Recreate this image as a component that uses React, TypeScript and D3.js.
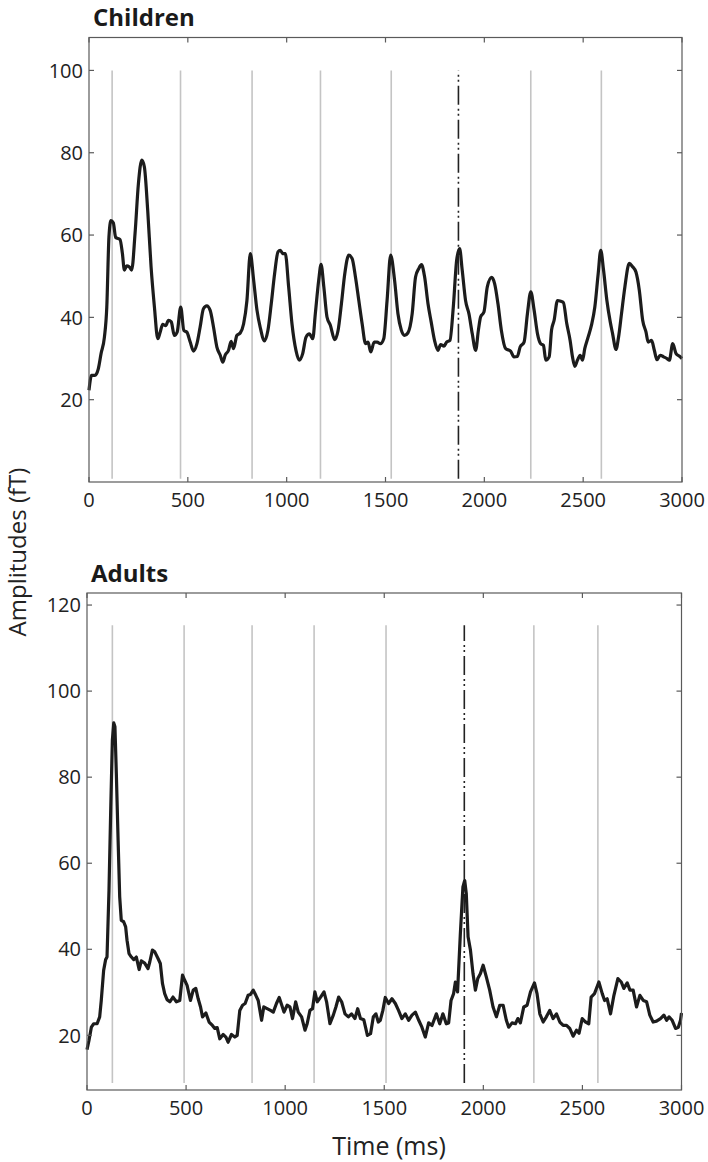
import React from "react";
import * as d3 from "d3";

// ---------- Data ----------
const childTime = [0,13,30,47,61,78,90,101,111,123,135,157,169,179,191,203,216,233,250,267,280,297,314,331,348,360,373,388,402,416,432,446,464,480,495,512,529,546,562,579,596,613,630,647,664,677,689,706,719,731,748,765,782,799,816,833,850,866,888,905,922,939,956,968,980,993,1010,1027,1047,1064,1081,1098,1115,1132,1145,1162,1174,1188,1204,1221,1243,1260,1277,1294,1314,1331,1348,1365,1382,1399,1412,1425,1443,1458,1474,1491,1508,1526,1546,1563,1580,1596,1613,1635,1652,1669,1682,1698,1715,1731,1748,1765,1779,1796,1809,1826,1843,1860,1875,1888,1905,1922,1939,1956,1970,1981,1998,2015,2037,2052,2069,2086,2108,2133,2150,2167,2181,2201,2218,2235,2252,2269,2285,2299,2311,2328,2340,2353,2370,2387,2400,2417,2434,2446,2458,2471,2485,2497,2508,2525,2542,2559,2576,2589,2603,2620,2637,2649,2666,2679,2694,2711,2733,2750,2767,2784,2801,2818,2829,2846,2860,2873,2890,2907,2924,2936,2953,2970,2986,3000];
const childAmp = [22.3,25.9,25.9,27.5,31.2,35.2,42.5,59.6,63.5,63,59.4,58.9,55.5,51.5,52.5,52.3,51.5,60.4,72.5,78.2,76.6,66,52.3,42.5,34.8,36.4,38.3,38,39.3,38.9,35.6,36.4,42.5,36.8,36.4,34,31.8,33.6,37.6,42.1,42.8,41.7,37.6,32.8,30.8,29.1,30.8,32,34.2,32.4,35.6,36.2,38.4,44.1,55.5,49,41.7,37.6,34.3,36.8,43.3,50.6,55.9,56.3,55.5,55.5,47.4,38.4,32,29.6,31.2,35.2,36,34.8,40.9,49,52.9,47.4,40.1,38.1,34.6,36.8,43.3,50.6,55.1,54.3,49.8,44.1,38.4,33.6,34,31.6,34,34,33.6,34.8,44.1,55.1,49,40.9,36.9,35.6,36.2,40.9,49.8,51.9,52.8,49.8,43.3,38.9,34.4,32,33.4,33,34,34.4,42.5,53.9,56.7,51.5,44.1,40.9,36,32,36.9,40.1,41.3,47.4,49.7,48.2,43.3,36.9,32.4,31.8,30.4,30.5,32.8,34,40.9,46.2,41.7,36,33.6,33.2,29.6,30.4,36.9,39.3,44.1,43.9,43.6,38.5,34.4,30.4,28.1,29.6,30.8,29.6,32.4,35.2,38.1,42.5,50.6,56.3,51.5,44.1,38.9,36,32.2,35.2,40.9,47.4,53.1,52.3,51,46.6,39.3,36.4,34,34.4,32,29.7,30.8,30.4,30,29.6,33.6,31.2,30.6,30];

const adultTime = [0,10,22,34,51,64,72,84,94,101,111,120,128,135,141,148,157,165,173,185,195,202,212,224,236,249,263,274,291,308,317,330,342,359,370,381,392,404,418,434,451,468,482,493,505,522,536,549,561,573,583,600,616,633,645,657,670,687,701,712,729,746,758,771,785,798,813,825,839,852,864,881,892,909,926,940,956,970,983,994,1010,1024,1037,1053,1066,1083,1100,1111,1125,1138,1150,1162,1179,1196,1209,1226,1243,1256,1270,1285,1302,1319,1335,1352,1366,1380,1397,1415,1431,1445,1458,1470,1480,1493,1505,1522,1539,1556,1572,1589,1606,1623,1640,1657,1674,1690,1707,1724,1741,1763,1780,1796,1813,1825,1837,1850,1859,1870,1884,1897,1906,1914,1923,1935,1948,1960,1972,1985,1999,2015,2032,2049,2066,2083,2100,2116,2128,2145,2162,2174,2187,2204,2221,2238,2258,2271,2285,2302,2318,2335,2352,2369,2386,2403,2420,2436,2453,2470,2483,2499,2516,2532,2544,2561,2583,2600,2612,2625,2642,2659,2679,2696,2709,2726,2740,2756,2773,2790,2807,2824,2840,2857,2874,2894,2911,2925,2937,2953,2970,2984,2995,3000];
const adultAmp = [16.7,18.8,21.9,22.7,22.7,24.3,28.1,35.1,37.6,38.2,53.7,73.1,88.6,92.6,91.7,80.9,65.3,52.2,46.7,46.4,45.2,42.1,39,38.2,37.6,38.2,35.3,37.3,36.8,35.5,37.1,39.8,39.4,37.8,36.7,32,29.7,28.3,27.8,28.9,27.8,28.1,34,32.8,31.6,28.1,30.5,30.9,28.5,26.6,24.3,25.2,23.1,22.3,21.6,21.8,19.2,20.2,19.6,18.4,20.2,19.6,20,25.8,27,27.4,29.3,29.5,30.5,29.3,28.1,23.5,26.6,26.2,25.8,25.4,27.4,28.8,27,25.4,27,26.6,23.9,27.8,25.4,24.3,21.2,22.7,25.8,26.2,30.1,27.8,28.9,30.1,27.8,22.7,24.7,26.6,28.9,27.8,25,24.3,25,23.9,26.2,23.9,23.6,20,20.4,24.3,25,23.1,23.5,25.8,28.8,27.4,28.5,27.4,25.8,23.9,25,23.5,24.7,25.4,23.5,21.9,19.6,22.9,22.3,25,22.7,25,22.7,22.9,28.1,29.7,32.4,30.1,43.6,54.5,56,52.9,42.9,39.8,34.3,30.5,33.2,34.3,36.3,33.6,30.5,26.6,24.3,27,27,23.5,21.9,22.9,22.7,23.9,22.9,26.6,27,30.1,32.2,29.7,25,23.1,24.3,25.8,23.9,25,23.1,22.3,22.3,21.6,19.8,21.2,20.5,23.9,23.1,22.7,28.9,29.7,32.4,29.7,28.1,28.5,25,29.3,33.2,32.4,30.9,32.2,30.5,30.5,26.6,29.3,28.1,27.8,24.7,23.1,23.3,23.9,24.7,23.5,24.3,23.5,21.6,21.9,23.5,25.2];

const xTicks = [0, 500, 1000, 1500, 2000, 2500, 3000];
const childYTicks = [20, 40, 60, 80, 100];
const adultYTicks = [20, 40, 60, 80, 100, 120];
const childDomain = [0, 108];
const adultDomain = [7.3, 122.8];

// stimulus markers (ms); target marker drawn dash-dot
const childMarkers = [117, 463, 825, 1171, 1529, 2235, 2592];
const childTarget = 1869;
const childMarkerSpan = [0.8, 100];
const adultMarkers = [128, 490, 833, 1146, 1509, 2255, 2578];
const adultTarget = 1904;
const adultMarkerSpan = [8.9, 115.3];

// ---------- Layout ----------
const W = 708;
const H = 1162;
const FONT = "'Open Sans', 'Noto Sans', sans-serif";
const AXIS_COLOR = "#5a5a5a";

type PanelProps = {
  title: string;
  left: number;
  right: number;
  top: number;
  bottom: number;
  domain: number[];
  yTicks: number[];
  time: number[];
  amp: number[];
  markers: number[];
  target: number;
  span: number[];
  curve: any;
};

function Panel(p: PanelProps) {
  const x = d3.scaleLinear().domain([0, 3000]).range([p.left, p.right]);
  const y = d3.scaleLinear().domain(p.domain).range([p.bottom, p.top]);
  const pts = p.time.map((t, i) => [t, p.amp[i]] as [number, number]);
  const line = d3
    .line<[number, number]>()
    .x((d) => x(d[0]))
    .y((d) => y(d[1]))
    .curve(p.curve);
  const tk = 5;
  return (
    <g>
      <text x={p.left + 4} y={p.top - 11.5} fontFamily={FONT} fontWeight={700} fontSize={24} fill="#1a1a1a">
        {p.title}
      </text>
      {p.markers.map((m) => (
        <line key={m} x1={x(m)} x2={x(m)} y1={y(p.span[0])} y2={y(p.span[1])} stroke="#c4c4c4" strokeWidth={1.6} />
      ))}
      <line
        x1={x(p.target)}
        x2={x(p.target)}
        y1={y(p.span[0])}
        y2={y(p.span[1])}
        stroke="#222"
        strokeWidth={1.6}
        strokeDasharray="19 4 2 3 2 4"
      />
      <path d={line(pts) || ""} fill="none" stroke="#1c1c1c" strokeWidth={3.2} strokeLinejoin="round" />
      <rect x={p.left} y={p.top} width={p.right - p.left} height={p.bottom - p.top} fill="none" stroke={AXIS_COLOR} strokeWidth={1.2} />
      {xTicks.map((t) => (
        <g key={"x" + t}>
          <line x1={x(t)} x2={x(t)} y1={p.bottom} y2={p.bottom - tk} stroke={AXIS_COLOR} strokeWidth={1.2} />
          <line x1={x(t)} x2={x(t)} y1={p.top} y2={p.top + tk} stroke={AXIS_COLOR} strokeWidth={1.2} />
          <text x={x(t)} y={p.bottom + 25} textAnchor="middle" fontFamily={FONT} fontSize={20} fill="#222">
            {t}
          </text>
        </g>
      ))}
      {p.yTicks.map((v) => (
        <g key={"y" + v}>
          <line x1={p.left} x2={p.left + tk} y1={y(v)} y2={y(v)} stroke={AXIS_COLOR} strokeWidth={1.2} />
          <line x1={p.right} x2={p.right - tk} y1={y(v)} y2={y(v)} stroke={AXIS_COLOR} strokeWidth={1.2} />
          <text x={p.left - 6} y={y(v)} dy="0.36em" textAnchor="end" fontFamily={FONT} fontSize={20} fill="#222">
            {v}
          </text>
        </g>
      ))}
    </g>
  );
}

export default function App() {
  return (
    <svg
      width={W}
      height={H}
      viewBox={`0 0 ${W} ${H}`}
      style={{ position: "absolute", left: 0, top: 0, background: "#fff" }}
    >
      <rect width={W} height={H} fill="#fff" />
      <Panel
        title="Children"
        left={89}
        right={682}
        top={37.5}
        bottom={482}
        domain={childDomain}
        yTicks={childYTicks}
        time={childTime}
        amp={childAmp}
        markers={childMarkers}
        target={childTarget}
        span={childMarkerSpan}
        curve={d3.curveMonotoneX}
      />
      <Panel
        title="Adults"
        left={87}
        right={681.5}
        top={593}
        bottom={1090}
        domain={adultDomain}
        yTicks={adultYTicks}
        time={adultTime}
        amp={adultAmp}
        markers={adultMarkers}
        target={adultTarget}
        span={adultMarkerSpan}
        curve={d3.curveLinear}
      />
      <text
        transform="translate(26,552) rotate(-90)"
        textAnchor="middle"
        fontFamily={FONT}
        fontSize={24}
        fill="#222"
      >
        Amplitudes (fT)
      </text>
      <text x={389} y={1155} textAnchor="middle" fontFamily={FONT} fontSize={25} fill="#222">
        Time (ms)
      </text>
    </svg>
  );
}
